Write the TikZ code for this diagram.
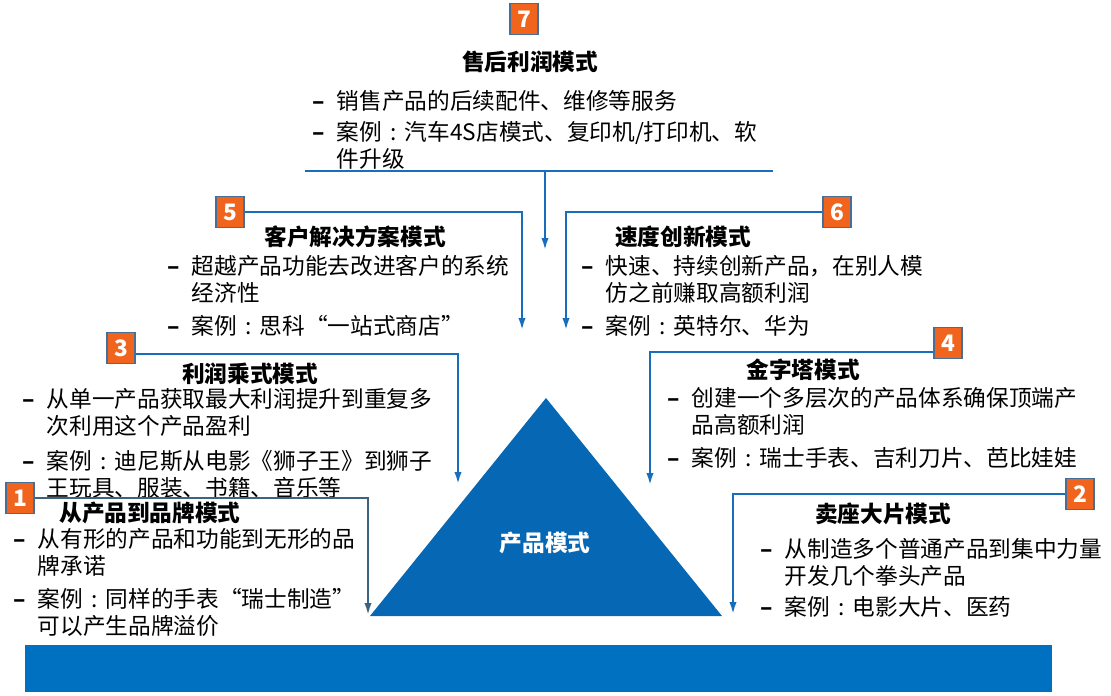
\documentclass[tikz,border=0pt]{standalone}
\usepackage{fontspec}
\setmainfont{Noto Sans CJK SC}
\usetikzlibrary{positioning, arrows.meta}

\definecolor{lineblue}{RGB}{22,110,188}
\definecolor{prodblue}{RGB}{6,104,180}
\definecolor{barblue}{RGB}{0,112,192}
\definecolor{slate}{RGB}{60,100,128}
\definecolor{badgeorange}{RGB}{240,100,30}
\definecolor{badgeedge}{RGB}{70,110,150}

\newcommand{\bul}[1]{\makebox[18.5pt][l]{\textbf{–}}\begin{tabular}[t]{@{}l@{}}#1\end{tabular}}
\newcommand{\cnc}{\makebox[1em][c]{:}}

\begin{document}
\begin{tikzpicture}[x=0.75pt, y=-0.75pt, font=\fontsize{17}{20}\selectfont,
  badge/.style={draw=badgeedge, line width=0.8pt, fill=badgeorange, text=white, font=\fontsize{17}{20}\selectfont\bfseries, minimum width=21pt, minimum height=23.5pt, inner sep=0pt},
  head/.style={anchor=base, inner sep=0pt, font=\fontsize{17}{20}\selectfont\bfseries},
  itm/.style={anchor=base west, inner sep=0pt},
  flow/.style={lineblue, line width=1.5pt, -{Latex[length=9pt,width=5.5pt]}}]
\useasboundingbox (0,0) rectangle (1111,696);

% product pyramid and base bar
\fill[prodblue] (546,398) -- (370,616) -- (722,616) -- cycle;
\node[head, text=white] (prod) at (545,551) {产品模式};
\fill[barblue] (25,645) rectangle (1052,692);

% 7
\node[badge] (b7) at (524,19) {7};
\node[head] (t7) at (530,70) {售后利润模式};
\node[itm] (i7a) at (312,109) {\bul{销售产品的后续配件、维修等服务}};
\node[itm] (i7b) at (312,140) {\bul{案例\cnc 汽车4S店模式、复印机/打印机、软\\件升级}};
\coordinate (h7l) at (305,171);
\coordinate (h7r) at (773,171);
\coordinate (s7) at (545,171);
\coordinate (e7) at (545,250);
\draw[lineblue, line width=1.5pt] (h7l) -- (h7r);
\draw[flow] (s7) -- (e7);

% 5
\node[badge] (b5) at (230,212) {5};
\node[head] (t5) at (355,245) {客户解决方案模式};
\node[itm] (i5a) at (167,274) {\bul{超越产品功能去改进客户的系统\\经济性}};
\node[itm] (i5b) at (167,334) {\bul{案例\cnc 思科“一站式商店”}};
\coordinate (e5) at (522,330);
\draw[flow] (b5.east) -| (e5);

% 6
\node[badge] (b6) at (837,212) {6};
\node[head] (t6) at (683,245) {速度创新模式};
\node[itm] (i6a) at (581,274) {\bul{快速、持续创新产品，在别人模\\仿之前赚取高额利润}};
\node[itm] (i6b) at (581,334) {\bul{案例\cnc 英特尔、华为}};
\coordinate (e6) at (566,330);
\draw[flow] (b6.west) -| (e6);

% 3
\node[badge] (b3) at (121,348) {3};
\node[head] (t3) at (250,382) {利润乘式模式};
\node[itm] (i3a) at (22,407) {\bul{从单一产品获取最大利润提升到重复多\\次利用这个产品盈利}};
\node[itm] (i3b) at (22,469) {\bul{案例\cnc 迪尼斯从电影《狮子王》到狮子\\王玩具、服装、书籍、音乐等}};
\coordinate (e3) at (458,484);
\draw[flow] ([yshift=-4.5pt]b3.east) -| (e3);

% 4
\node[badge] (b4) at (948,343) {4};
\node[head] (t4) at (803,378) {金字塔模式};
\node[itm] (i4a) at (667,406) {\bul{创建一个多层次的产品体系确保顶端产\\品高额利润}};
\node[itm] (i4b) at (667,466) {\bul{案例\cnc 瑞士手表、吉利刀片、芭比娃娃}};
\coordinate (e4) at (650,485);
\draw[flow] ([yshift=-6.5pt]b4.west) -| (e4);

% 1
\node[badge] (b1) at (20,498) {1};
\node[head] (t1) at (150,521) {从产品到品牌模式};
\node[itm] (i1a) at (13,547) {\bul{从有形的产品和功能到无形的品\\牌承诺}};
\node[itm] (i1b) at (13,607) {\bul{案例\cnc 同样的手表“瑞士制造”\\可以产生品牌溢价}};
\coordinate (e1) at (368,615);
\draw[flow, slate] (b1.east) -| (e1);

% 2
\node[badge] (b2) at (1080,494) {2};
\node[head] (t2) at (883,522) {卖座大片模式};
\node[itm] (i2a) at (760,557) {\bul{从制造多个普通产品到集中力量\\开发几个拳头产品}};
\node[itm] (i2b) at (760,615) {\bul{案例\cnc 电影大片、医药}};
\coordinate (e2) at (733,614);
\draw[flow] (b2.west) -| (e2);
\end{tikzpicture}
\end{document}
